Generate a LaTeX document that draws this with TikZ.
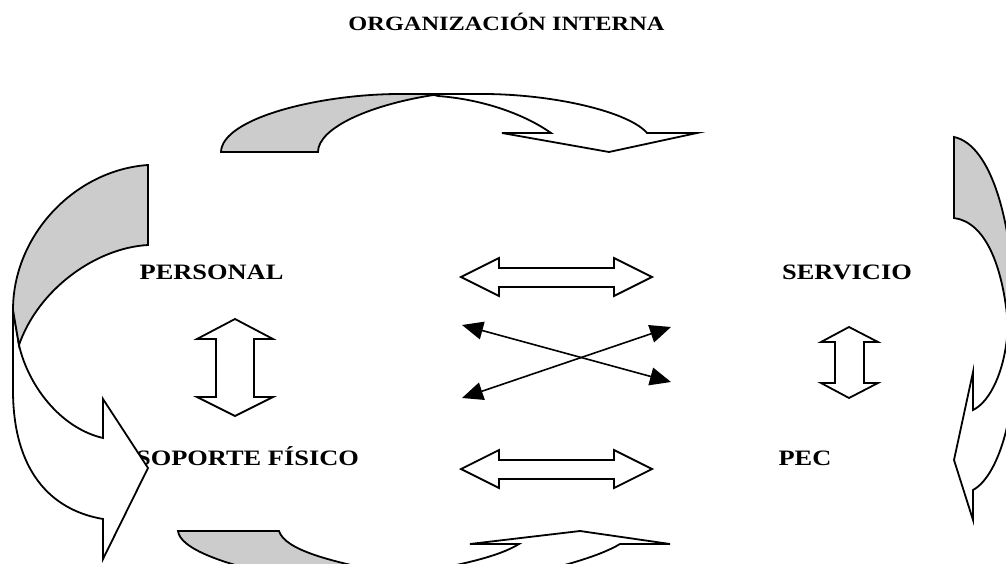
\documentclass[tikz,border=0pt]{standalone}
\usepackage{fontspec}
\newfontfamily\labelfont[FakeStretch=1.2]{Liberation Serif}
\usetikzlibrary{arrows.meta}
\definecolor{shade}{HTML}{CCCCCC}
\tikzset{
  blk/.style={draw=black, line width=1.8pt, fill=white, line join=miter},
  grayblk/.style={draw=black, line width=1.8pt, fill=shade, line join=miter},
  lbl/.style={font=\labelfont\bfseries\fontsize{22}{26}\selectfont, anchor=base, inner sep=0pt},
  ttl/.style={font=\labelfont\bfseries\fontsize{20.3}{24}\selectfont, anchor=base, inner sep=0pt},
  thinarrow/.style={line width=1.6pt, {Triangle[length=21pt,width=18pt]}-{Triangle[length=21pt,width=18pt]}}
}
\begin{document}
\begin{tikzpicture}[x=1pt, y=-1pt]
\useasboundingbox (0,0) rectangle (1006,564);
\clip (0,0) rectangle (1006,564);
\fill[white] (0,0) rectangle (1006,564);

% title
\node[ttl] (title) at (506.5,31) {ORGANIZACIÓN INTERNA};

% labels
\node[lbl] (personal) at (211.5,279) {PERSONAL};
\node[lbl] (servicio) at (847,279) {SERVICIO};
\node[lbl] (soporte) at (247.5,465) {SOPORTE FÍSICO};
\node[lbl] (pec) at (805,465) {PEC};

% top curved arrow
\draw[blk] (430,94) -- (487,94) .. controls (560,95) and (630,113) .. (647,133)
  -- (697,133) -- (609,152) -- (502,133) -- (551,133)
  .. controls (530,118) and (490,100) .. (438,96) -- cycle;
\draw[grayblk] (221,152) .. controls (222,118) and (320,94) .. (400,94) -- (440,94)
  .. controls (370,104) and (318,128) .. (318,152) -- cycle;

% left curved arrow
\draw[blk] (13,310) -- (13,390) .. controls (13,470) and (50,510) .. (103,519)
  -- (103,559) -- (148,468) -- (103,399) -- (103,438)
  .. controls (60,428) and (28,385) .. (19,345) -- cycle;
\draw[grayblk] (148,165) .. controls (75,170) and (13,235) .. (13,310) -- (19,345)
  .. controls (38,290) and (95,248) .. (148,245) -- cycle;

% right curved arrow
\draw[blk] (1008,325) .. controls (1006,370) and (990,402) .. (973,410)
  -- (973,372) -- (954,460) -- (973,520) -- (973,490)
  .. controls (992,480) and (1008,440) .. (1012,395) -- (1014,310) -- cycle;
\draw[grayblk] (954,137) .. controls (992,145) and (1013,225) .. (1014,310) -- (1008,325)
  .. controls (1003,265) and (985,222) .. (954,218) -- cycle;

% bottom curved arrow
\draw[blk] (470,544) -- (519,544) .. controls (500,556) and (460,566) .. (400,575)
  -- (500,580) .. controls (560,568) and (600,556) .. (620,544)
  -- (670,544) -- (580,531) -- cycle;
\draw[grayblk] (178,531) -- (279,531) .. controls (285,550) and (330,562) .. (400,575)
  -- (300,580) .. controls (220,565) and (180,548) .. (178,531) -- cycle;

% horizontal double arrows
\draw[blk] (461,277) -- (499,258) -- (499,268) -- (614,268) -- (614,258) -- (652,277)
  -- (614,296) -- (614,287) -- (499,287) -- (499,296) -- cycle;
\draw[blk] (461,469) -- (499,450) -- (499,460) -- (614,460) -- (614,450) -- (652,469)
  -- (614,488) -- (614,479) -- (499,479) -- (499,488) -- cycle;

% vertical double arrows
\draw[blk] (235,319) -- (273,339) -- (254,339) -- (254,397) -- (273,397) -- (235,416)
  -- (197,397) -- (216,397) -- (216,339) -- (197,339) -- cycle;
\draw[blk] (849,327) -- (878,342) -- (864,342) -- (864,383) -- (878,383) -- (849,398)
  -- (821,383) -- (835,383) -- (835,342) -- (821,342) -- cycle;

% crossing arrows
\coordinate (c1a) at (462,325);
\coordinate (c1b) at (671,382);
\coordinate (c2a) at (462,398);
\coordinate (c2b) at (671,327);
\draw[thinarrow] (c1a) -- (c1b);
\draw[thinarrow] (c2a) -- (c2b);
\end{tikzpicture}
\end{document}
